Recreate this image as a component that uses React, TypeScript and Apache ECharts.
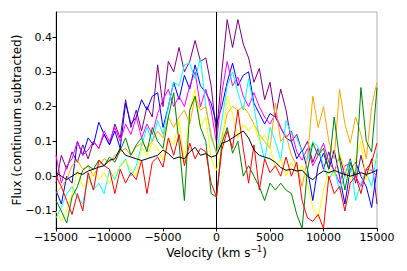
import React, { useEffect, useRef } from "react";
import * as echarts from "echarts";

const velocity = [
  -15000, -14500, -14000, -13500, -13000, -12500, -12000, -11500, -11000, -10500,
  -10000, -9500, -9000, -8500, -8000, -7500, -7000, -6500, -6000, -5500,
  -5000, -4500, -4000, -3500, -3000, -2500, -2000, -1500, -1000, -500,
  0, 500, 1000, 1500, 2000, 2500, 3000, 3500, 4000, 4500,
  5000, 5500, 6000, 6500, 7000, 7500, 8000, 8500, 9000, 9500,
  10000, 10500, 11000, 11500, 12000, 12500, 13000, 13500, 14000, 14500,
  15000,
];

const purpleFlux = [
  -0.02, 0.06, 0.02, 0.07, 0.04, 0.09, 0.05, 0.10, 0.08, 0.12,
  0.09, 0.15, 0.11, 0.22, 0.14, 0.19, 0.13, 0.20, 0.17, 0.32,
  0.20, 0.33, 0.30, 0.37, 0.30, 0.33, 0.39, 0.33, 0.34, 0.26,
  0.12, 0.30, 0.45, 0.37, 0.45, 0.38, 0.34, 0.27, 0.31, 0.22,
  0.27, 0.17, 0.25, 0.19, 0.10, 0.12, 0.07, 0.10, 0.04, 0.08,
  0.02, 0.07, 0.01, 0.06, 0.00, 0.05, -0.02, 0.06, 0.00, 0.05,
  -0.08,
];
const blueFlux = [
  -0.04, -0.08, 0.00, -0.02, 0.10, 0.06, 0.11, 0.09, 0.155, 0.12,
  0.09, 0.13, 0.08, 0.21, 0.15, 0.17, 0.22, 0.19, 0.23, 0.24,
  0.14, 0.20, 0.27, 0.22, 0.29, 0.25, 0.32, 0.26, 0.24, 0.21,
  0.15, 0.20, 0.27, 0.325, 0.26, 0.29, 0.30, 0.21, 0.18, 0.15,
  0.18, 0.17, 0.14, 0.11, 0.10, 0.05, 0.075, 0.02, -0.07, 0.03,
  0.066, 0.02, 0.075, 0.00, -0.08, 0.02, 0.04, 0.00, -0.03, -0.09,
  0.02,
];
const cyanFlux = [
  -0.12, -0.09, -0.05, -0.03, -0.06, -0.08, 0.00, -0.04, -0.02, -0.05,
  0.017, -0.01, 0.03, 0.05, 0.00, 0.03, 0.09, 0.14, 0.10, 0.16,
  0.12, 0.20, 0.27, 0.26, 0.32, 0.325, 0.28, 0.34, 0.20, 0.11,
  0.066, 0.16, 0.26, 0.30, 0.24, 0.19, 0.28, 0.20, 0.11, 0.046,
  0.14, 0.10, 0.046, 0.16, 0.12, 0.11, 0.07, 0.046, 0.10, 0.083,
  0.03, -0.01, 0.02, -0.04, 0.00, 0.046, -0.07, -0.02, 0.01, -0.03,
  0.066,
];
const magentaFlux = [
  0.06, -0.02, 0.03, 0.05, 0.10, 0.06, 0.075, 0.10, 0.08, 0.13,
  0.10, 0.14, 0.10, 0.15, 0.12, 0.17, 0.11, 0.15, 0.12, 0.18,
  0.22, 0.25, 0.20, 0.23, 0.20, 0.26, 0.30, 0.20, 0.25, 0.19,
  0.095, 0.24, 0.33, 0.26, 0.285, 0.23, 0.20, 0.24, 0.20, 0.17,
  0.15, 0.18, 0.14, 0.11, 0.13, 0.07, 0.046, 0.08, 0.03, 0.06,
  0.095, 0.04, 0.017, -0.02, 0.03, 0.037, 0.00, -0.03, 0.02, 0.017,
  0.00,
];
const orangeFlux = [
  -0.05, -0.03, -0.01, 0.03, 0.046, 0.02, 0.03, 0.00, 0.03, 0.05,
  0.04, 0.06, 0.07, 0.08, 0.06, 0.085, 0.095, 0.08, 0.10, 0.13,
  0.11, 0.17, 0.14, 0.17, 0.19, 0.15, 0.23, 0.19, 0.20, 0.12,
  0.066, 0.11, 0.18, 0.20, 0.19, 0.20, 0.18, 0.15, 0.12, 0.10,
  0.08, 0.21, 0.10, 0.12, 0.06, 0.03, -0.03, 0.05, 0.23, 0.14,
  0.20, 0.10, 0.05, 0.25, 0.15, 0.095, 0.17, 0.12, 0.05, 0.20,
  0.27,
];
const yellowFlux = [
  -0.10, -0.13, -0.10, -0.05, 0.017, -0.03, -0.02, 0.01, -0.01, 0.01,
  -0.02, 0.01, 0.026, 0.046, 0.02, 0.00, 0.083, 0.06, 0.095, 0.08,
  0.046, 0.11, 0.09, 0.16, 0.037, 0.19, 0.25, 0.14, 0.17, 0.05,
  0.017, 0.075, 0.23, 0.18, 0.11, 0.15, 0.13, 0.15, 0.10, 0.12,
  0.083, 0.026, 0.05, 0.00, 0.04, 0.01, 0.03, -0.02, -0.09, -0.12,
  -0.04, 0.017, 0.00, 0.066, 0.02, -0.01, 0.05, 0.10, -0.01, 0.04,
  0.05,
];
const greenFlux = [
  -0.07, -0.10, -0.135, -0.06, -0.03, 0.017, 0.03, 0.02, 0.046, 0.03,
  0.055, 0.04, 0.075, 0.11, 0.06, 0.09, 0.11, 0.07, 0.14, 0.10,
  0.08, 0.17, 0.24, 0.095, -0.07, 0.19, 0.23, 0.14, 0.10, -0.05,
  -0.06, 0.095, 0.14, 0.066, 0.10, 0.00, 0.03, 0.00, -0.03, -0.07,
  -0.02, -0.04, -0.02, -0.04, -0.05, -0.11, -0.15, 0.017, 0.095, 0.06,
  0.08, 0.02, 0.17, 0.05, -0.04, 0.04, 0.00, 0.255, 0.10, 0.07,
  0.255,
];
const redFlux = [
  0.00, -0.03, -0.07, -0.11, -0.05, -0.10, 0.01, -0.04, 0.046, 0.03,
  0.02, -0.05, 0.02, -0.02, 0.01, -0.01, 0.046, -0.05, 0.04, 0.055,
  0.026, 0.11, 0.06, 0.12, 0.03, 0.095, 0.05, 0.08, 0.07, -0.02,
  -0.06, 0.075, 0.13, 0.08, 0.19, 0.08, -0.02, 0.09, -0.04, 0.05,
  0.01, 0.03, 0.00, 0.055, 0.00, 0.04, -0.07, -0.12, -0.13, -0.11,
  -0.15, 0.00, -0.05, -0.03, -0.10, -0.02, 0.00, -0.05, 0.02, 0.04,
  0.095,
];
const blackFlux = [
  0.01, 0.00, -0.01, 0.00, 0.01, 0.005, 0.015, 0.02, 0.026, 0.03,
  0.046, 0.05, 0.08, 0.06, 0.055, 0.05, 0.045, 0.05, 0.055, 0.06,
  0.075, 0.065, 0.05, 0.055, 0.05, 0.07, 0.083, 0.06, 0.065, 0.055,
  0.06, 0.095, 0.10, 0.11, 0.12, 0.13, 0.11, 0.075, 0.06, 0.055,
  0.05, 0.04, 0.025, 0.017, 0.02, 0.015, 0.017, 0.00, -0.01, 0.005,
  0.015, 0.01, 0.017, 0.01, 0.005, 0.00, 0.005, 0.01, 0.005, 0.01,
  0.017,
];

const seriesList: [string, number[]][] = [
  ["#800080", purpleFlux],
  ["#0000ff", blueFlux],
  ["#ff00ff", magentaFlux],
  ["#00ffff", cyanFlux],
  ["#ffa500", orangeFlux],
  ["#ffff00", yellowFlux],
  ["#008000", greenFlux],
  ["#ff0000", redFlux],
  ["#000000", blackFlux],
];

const yTicks = [-0.1, 0, 0.1, 0.2, 0.3, 0.4];
const FONT = "DejaVu Sans";
const minus = (s: string) => s.replace("-", "\u2212");

export default function App() {
  const ref = useRef<HTMLDivElement>(null);
  useEffect(() => {
    if (!ref.current) return;
    const chart = echarts.init(ref.current, null, { renderer: "svg" });
    const series: any[] = seriesList.map(([color, arr], idx) => ({
      type: "line",
      data: velocity.map((v, i) => [v, arr[i]]),
      showSymbol: false,
      lineStyle: { color, width: 1 },
      itemStyle: { color },
      z: 2 + idx,
      ...(idx === 0
        ? {
            markLine: {
              silent: true,
              symbol: "none",
              label: { show: false },
              lineStyle: { color: "#000", width: 1, type: "solid" },
              data: [{ xAxis: 0 }],
            },
          }
        : {}),
    }));
    chart.setOption({
      animation: false,
      textStyle: { fontFamily: FONT },
      grid: {
        left: 56,
        right: 30,
        top: 12,
        bottom: 43,
        show: true,
        borderColor: "#b0b0b0",
        borderWidth: 1,
        containLabel: false,
        outerBoundsMode: "none",
      },
      xAxis: {
        type: "value",
        min: -15000,
        max: 15000,
        interval: 5000,
        splitLine: { show: false },
        axisLine: { show: true, onZero: false, lineStyle: { color: "#000", width: 1 } },
        axisTick: { show: true, inside: false, length: 3.5, lineStyle: { color: "#000" } },
        axisLabel: {
          color: "#000",
          fontSize: 11,
          fontFamily: FONT,
          margin: 4,
          formatter: (v: number) => minus(String(v)),
        },
        name: "Velocity (km s{sup|\u22121})",
        nameLocation: "middle",
        nameGap: 17,
        nameMoveOverlap: false,
        nameTextStyle: {
          color: "#000",
          fontSize: 12,
          fontFamily: FONT,
          lineHeight: 15,
          rich: {
            sup: { fontSize: 8, fontFamily: FONT, color: "#000", verticalAlign: "top", lineHeight: 9 },
          },
        },
      },
      yAxis: {
        type: "value",
        min: -0.149,
        max: 0.472,
        splitLine: { show: false },
        axisLine: { show: true, onZero: false, lineStyle: { color: "#000", width: 1 } },
        axisTick: {
          show: true,
          inside: false,
          length: 3.5,
          lineStyle: { color: "#000" },
          customValues: yTicks,
        },
        axisLabel: {
          color: "#000",
          fontSize: 11,
          fontFamily: FONT,
          margin: 4,
          customValues: yTicks,
          formatter: (v: number) => minus(v.toFixed(1)),
        },
        name: "Flux (continuum subtracted)",
        nameLocation: "middle",
        nameGap: 33,
        nameMoveOverlap: false,
        nameTextStyle: { color: "#000", fontSize: 12, fontFamily: FONT },
      },
      series,
    });
    return () => chart.dispose();
  }, []);
  return (
    <div
      ref={ref}
      style={{ position: "fixed", left: 0, top: 0, width: 407, height: 271, background: "#fff" }}
    />
  );
}
